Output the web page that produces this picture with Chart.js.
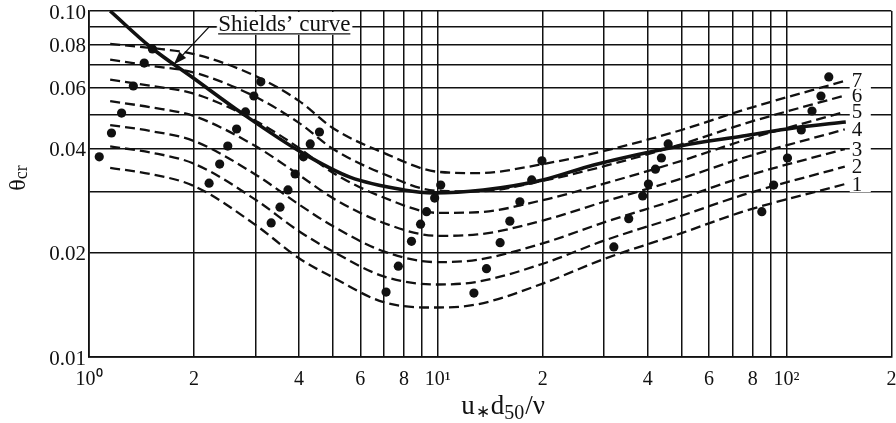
<!DOCTYPE html>
<html lang="en">
<head>
<meta charset="UTF-8">
<title>Shields' curve</title>
<script src="https://cdn.jsdelivr.net/npm/chart.js"></script>
<style>
  html, body { margin: 0; padding: 0; background: #fff; }
</style>
</head>
<body>
<canvas id="shieldsChart" width="896" height="423"></canvas>
<script>
// grid / tick values
const xGridValues = [1, 2, 3, 4, 5, 6, 7, 8, 9, 10, 20, 30, 40, 50, 60, 70, 80, 90, 100, 200];
const xTickText = ['10\u2070', '2', '', '4', '', '6', '', '8', '', '10\u00B9', '2', '', '4', '', '6', '', '8', '', '10\u00B2', '2'];
const yGridValues = [0.01, 0.02, 0.03, 0.04, 0.05, 0.06, 0.07, 0.08, 0.09, 0.10];
const yTickText = ['0.01', '0.02', '', '0.04', '', '0.06', '', '0.08', '', '0.10'];

// dashed curves 1..7
const curveX = [1.15, 1.5, 2, 3, 4, 5, 7, 10, 13, 20, 30, 50, 75, 147];
const curve1 = [0.0352, 0.0338, 0.0312, 0.0241, 0.0193, 0.0170, 0.0144, 0.0139, 0.0142, 0.0163, 0.0192, 0.0228, 0.0263, 0.0316];
const curve2 = [0.0406, 0.0390, 0.0362, 0.0285, 0.0231, 0.0202, 0.0171, 0.0162, 0.0165, 0.0186, 0.0217, 0.0256, 0.0294, 0.0355];
const curve3 = [0.0468, 0.0450, 0.0421, 0.0337, 0.0276, 0.0239, 0.0202, 0.0188, 0.0191, 0.0213, 0.0245, 0.0288, 0.0331, 0.0399];
const curve4 = [0.0549, 0.0527, 0.0497, 0.0407, 0.0336, 0.0288, 0.0244, 0.0224, 0.0226, 0.0248, 0.0281, 0.0328, 0.0376, 0.0455];
const curve5 = [0.0633, 0.0608, 0.0577, 0.0482, 0.0402, 0.0341, 0.0289, 0.0261, 0.0262, 0.0284, 0.0317, 0.0369, 0.0422, 0.0511];
const curve6 = [0.0724, 0.0695, 0.0664, 0.0565, 0.0475, 0.0400, 0.0338, 0.0302, 0.0301, 0.0323, 0.0356, 0.0412, 0.0471, 0.0570];
const curve7 = [0.0803, 0.0782, 0.0751, 0.0649, 0.0550, 0.0459, 0.0389, 0.0343, 0.0340, 0.0361, 0.0394, 0.0453, 0.0517, 0.0628];
const curveNames = ['1', '2', '3', '4', '5', '6', '7'];

// Shields' curve (thick solid)
const shieldsX = [1.15, 1.5, 2, 2.74, 4.09, 5.6, 8, 9.7, 13.5, 20, 28, 50, 75, 106, 148];
const shieldsY = [0.100, 0.0787, 0.0638, 0.0507, 0.0389, 0.0331, 0.0304, 0.0298, 0.0304, 0.0325, 0.0359, 0.0408, 0.0435, 0.0460, 0.0478];

// measured points
const dotX = [1.07, 1.16, 1.24, 1.34, 1.44, 1.52,
              2.21, 2.37, 2.50, 2.65, 2.81, 2.97, 3.11,
              3.33, 3.53, 3.72, 3.90, 4.12, 4.31, 4.58,
              7.11, 7.71, 8.41, 8.93, 9.29, 9.80, 10.2,
              12.7, 13.8, 15.1, 16.1, 17.2, 18.6, 19.9,
              32.0, 35.3, 38.7, 40.2, 42.1, 43.8, 45.8,
              85.0, 91.9, 100.7, 110.3, 118.4, 125.6, 132.3];
const dotY = [0.0379, 0.0444, 0.0507, 0.0607, 0.0707, 0.0777,
              0.0318, 0.0361, 0.0407, 0.0456, 0.0511, 0.0568, 0.0624,
              0.0244, 0.0271, 0.0304, 0.0338, 0.0379, 0.0413, 0.0447,
              0.0154, 0.0183, 0.0216, 0.0242, 0.0263, 0.0288, 0.0314,
              0.0153, 0.0180, 0.0214, 0.0247, 0.0281, 0.0325, 0.0369,
              0.0208, 0.0251, 0.0292, 0.0316, 0.0349, 0.0376, 0.0413,
              0.0263, 0.0314, 0.0376, 0.0453, 0.0514, 0.0568, 0.0645];

// annotation anchors (data coords)
const shieldsLabelAt = { x: 2.3, y: 0.09 };
const shieldsArrowTip = { x: 1.75, y: 0.0700 };

const INK = '#111';
const SERIF = '"Liberation Serif", "Times New Roman", serif';
const curveSets = [curve1, curve2, curve3, curve4, curve5, curve6, curve7];

function pts(xs, ys) {
  return xs.map((x, i) => ({ x: x, y: ys[i] }));
}

const datasets = curveSets.map(c => ({
  data: pts(curveX, c),
  showLine: true,
  borderColor: INK,
  borderWidth: 2.3,
  borderDash: [10, 5],
  pointRadius: 0,
  cubicInterpolationMode: 'monotone',
  fill: false
}));
datasets.push({
  data: pts(shieldsX, shieldsY),
  showLine: true,
  borderColor: INK,
  borderWidth: 3.6,
  pointRadius: 0,
  cubicInterpolationMode: 'monotone',
  fill: false
});
datasets.push({
  data: pts(dotX, dotY),
  showLine: false,
  pointRadius: 4.6,
  pointBackgroundColor: INK,
  pointBorderWidth: 0
});

// text drawn on top: curve numbers, Shields' label + arrow, axis titles
const overlay = {
  id: 'overlay',
  afterDraw(chart) {
    const ctx = chart.ctx;
    const xs = chart.scales.x, ys = chart.scales.y;
    const area = chart.chartArea;
    ctx.save();

    // curve numbers
    ctx.font = '21px ' + SERIF;
    ctx.textBaseline = 'middle';
    ctx.textAlign = 'left';
    const lx = xs.getPixelForValue(curveX[curveX.length - 1]) + 7;
    curveSets.forEach((c, i) => {
      const py = ys.getPixelForValue(c[c.length - 1]);
      ctx.fillStyle = '#fff';
      ctx.fillRect(lx - 2, py - 8, 21, 16);
      ctx.fillStyle = INK;
      ctx.fillText(curveNames[i], lx, py + 1);
    });

    // Shields' curve label
    const sx = xs.getPixelForValue(shieldsLabelAt.x);
    const sy = ys.getPixelForValue(shieldsLabelAt.y);
    ctx.font = '23px ' + SERIF;
    const label = 'Shields\u2019 curve';
    const w = ctx.measureText(label).width;
    ctx.fillStyle = '#fff';
    ctx.fillRect(sx + 1, area.top + 1, w + 4, sy + 7 - area.top);
    ctx.fillStyle = INK;
    ctx.textBaseline = 'alphabetic';
    ctx.fillText(label, sx + 3, sy + 4);
    ctx.strokeStyle = INK;
    ctx.lineWidth = 1.3;
    ctx.beginPath();
    ctx.moveTo(sx + 3, sy + 7);
    ctx.lineTo(sx + 3 + w, sy + 7);
    ctx.stroke();

    // arrow
    const tx = xs.getPixelForValue(shieldsArrowTip.x);
    const ty = ys.getPixelForValue(shieldsArrowTip.y);
    ctx.beginPath();
    ctx.moveTo(sx + 2, sy);
    ctx.lineTo(sx - 6, sy);
    ctx.lineTo(tx, ty);
    ctx.stroke();
    const ang = Math.atan2(ty - sy, tx - (sx - 6));
    ctx.beginPath();
    ctx.moveTo(tx, ty);
    ctx.lineTo(tx - 14 * Math.cos(ang - 0.33), ty - 14 * Math.sin(ang - 0.33));
    ctx.lineTo(tx - 14 * Math.cos(ang + 0.33), ty - 14 * Math.sin(ang + 0.33));
    ctx.closePath();
    ctx.fill();

    // y axis title: theta_cr
    ctx.save();
    ctx.translate(25, (area.top + area.bottom) / 2 - 6);
    ctx.rotate(-Math.PI / 2);
    ctx.textBaseline = 'alphabetic';
    ctx.font = '24px ' + SERIF;
    const tw = ctx.measureText('\u03B8').width;
    ctx.font = '18px ' + SERIF;
    const cw = ctx.measureText('cr').width;
    const x0 = -(tw + cw) / 2;
    ctx.font = '24px ' + SERIF;
    ctx.fillText('\u03B8', x0, 0);
    ctx.font = '18px ' + SERIF;
    ctx.fillText('cr', x0 + tw, 2);
    ctx.restore();

    // x axis title: u*d50/nu
    const parts = [
      { t: 'u', f: 27, dy: 0, gap: 1 },
      { t: '\u2217', f: 17, dy: 3, gap: 1 },
      { t: 'd', f: 27, dy: 0, gap: 0 },
      { t: '50', f: 20, dy: 5, gap: 1 },
      { t: '/\u03BD', f: 27, dy: 0, gap: 0 }
    ];
    let total = 0;
    parts.forEach(p => { ctx.font = p.f + 'px ' + SERIF; p.w = ctx.measureText(p.t).width + p.gap; total += p.w; });
    let px = 503 - total / 2;
    const base = 414;
    parts.forEach(p => {
      ctx.font = p.f + 'px ' + SERIF;
      ctx.fillText(p.t, px, base + p.dy);
      px += p.w;
    });

    ctx.restore();
  }
};

new Chart(document.getElementById('shieldsChart').getContext('2d'), {
  type: 'scatter',
  data: { datasets: datasets },
  options: {
    responsive: false,
    animation: false,
    devicePixelRatio: 1,
    layout: { padding: { left: 0, right: 3, top: 11, bottom: 0 } },
    plugins: { legend: { display: false }, tooltip: { enabled: false } },
    scales: {
      x: {
        type: 'logarithmic',
        min: 1,
        max: 200,
        afterBuildTicks: s => { s.ticks = xGridValues.map(v => ({ value: v })); },
        afterFit: s => { s.height = 66; s.paddingLeft = 0; s.paddingRight = 0; },
        ticks: {
          autoSkip: false,
          maxRotation: 0,
          padding: 11,
          color: INK,
          font: { family: SERIF, size: 20 },
          callback: (v, i) => xTickText[i]
        },
        grid: { color: INK, lineWidth: 1.5, drawTicks: false },
        border: { color: INK, width: 1.7 }
      },
      y: {
        type: 'logarithmic',
        min: 0.01,
        max: 0.10,
        afterBuildTicks: s => { s.ticks = yGridValues.map(v => ({ value: v })); },
        afterFit: s => { s.width = 89; s.paddingTop = 0; s.paddingBottom = 0; },
        ticks: {
          autoSkip: false,
          padding: 3,
          labelOffset: 2,
          color: INK,
          font: { family: SERIF, size: 21 },
          callback: (v, i) => yTickText[i]
        },
        grid: { color: INK, lineWidth: 1.5, drawTicks: false },
        border: { color: INK, width: 1.7 }
      }
    }
  },
  plugins: [overlay]
});
</script>
</body>
</html>
